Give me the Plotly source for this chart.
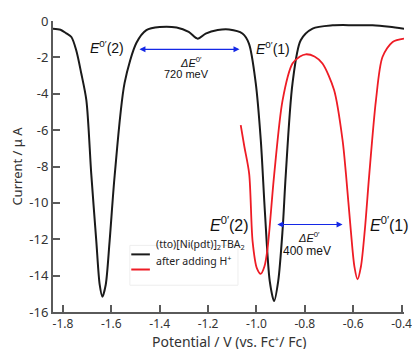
import plotly.graph_objects as go

# Black curve: (tto)[Ni(pdt)]2TBA2
black_x = [-1.841, -1.81, -1.786, -1.765, -1.745, -1.724, -1.703, -1.683, -1.662, -1.648, -1.637,
           -1.623, -1.607, -1.586, -1.545, -1.496, -1.455, -1.40, -1.33, -1.28, -1.243, -1.21,
           -1.16, -1.113, -1.058, -1.031, -1.003, -0.982, -0.965, -0.945, -0.927, -0.91,
           -0.892, -0.879, -0.851, -0.817, -0.768, -0.685, -0.60, -0.52, -0.45, -0.39]
black_y = [-0.42, -0.48, -0.68, -0.88, -1.61, -2.89, -4.36, -8.38, -12.1, -14.5, -15.16,
           -14.5, -12.1, -8.48, -3.4, -1.2, -0.5, -0.33, -0.36, -0.6, -0.97, -0.69,
           -0.5, -0.47, -0.69, -1.24, -3.4, -6.55, -10.5, -14.3, -15.4, -14.3,
           -11.5, -8.5, -3.44, -1.06, -0.42, -0.24, -0.23, -0.24, -0.32, -0.42]

# Red curve: after adding H+
red_x = [-1.065, -1.05, -1.03, -1.016, -0.998, -0.982, -0.967, -0.954, -0.927, -0.892,
         -0.851, -0.82, -0.796, -0.76, -0.727, -0.679, -0.644, -0.63, -0.61, -0.595,
         -0.582, -0.568, -0.552, -0.534, -0.506, -0.479, -0.437, -0.39]
red_y = [-5.73, -6.9, -8.4, -12.1, -13.6, -13.9, -13.5, -12.5, -8.5, -4.36,
         -2.34, -1.95, -1.83, -1.95, -2.34, -3.8, -6.55, -8.4, -11.5, -13.5,
         -14.2, -13.5, -11.5, -8.5, -4.36, -1.98, -1.15, -0.97]

x_ticks = [-1.8, -1.6, -1.4, -1.2, -1.0, -0.8, -0.6, -0.4]
x_tick_labels = ["-1.8", "-1.6", "-1.4", "-1.2", "-1.0", "-0.8", "-0.6", "-0.4"]
y_ticks = [0, -2, -4, -6, -8, -10, -12, -14, -16]
y_tick_labels = ["0", "-2", "-4", "-6", "-8", "-10", "-12", "-14", "-16"]

series_names = ["(tto)[Ni(pdt)]<sub>2</sub>TBA<sub>2</sub>", "after adding H<sup>+</sup>"]
x_title = "Potential / V (vs. Fc⁺/ Fc)"
y_title = "Current / μ A"

BLUE = "#1428e6"
AX = "#5a5a5a"
TXT = "#333333"
ANN_FONT = "Liberation Sans, Arial, sans-serif"
AX_FONT = "Noto Sans, sans-serif"

fig = go.Figure()
fig.add_trace(go.Scatter(x=black_x, y=black_y, mode="lines", name=series_names[0],
                         line=dict(color="#1a1a1a", width=2, shape="spline", smoothing=0.8),
                         showlegend=False))
fig.add_trace(go.Scatter(x=red_x, y=red_y, mode="lines", name=series_names[1],
                         line=dict(color="#ee1c25", width=1.8, shape="spline", smoothing=0.8),
                         showlegend=False))

def E_label(text_num, x, y, size):
    return dict(x=x, y=y, xref="x", yref="y", showarrow=False,
                text="<i>E</i><sup>0′</sup>(" + text_num + ")",
                font=dict(family=ANN_FONT, size=size, color="#111111"))

annotations = [
    E_label("2", -1.617, -1.45, 14),
    E_label("1", -0.93, -1.5, 14),
    E_label("2", -1.11, -11.15, 16),
    E_label("1", -0.449, -11.15, 16),
    dict(x=-1.269, y=-2.25, xref="x", yref="y", showarrow=False,
         text="<i>ΔE</i><sup>0′</sup>", font=dict(family=ANN_FONT, size=11, color="#111111")),
    dict(x=-1.29, y=-2.92, xref="x", yref="y", showarrow=False,
         text="720 meV", font=dict(family=ANN_FONT, size=11, color="#111111")),
    dict(x=-0.782, y=-11.87, xref="x", yref="y", showarrow=False,
         text="<i>ΔE</i><sup>0′</sup>", font=dict(family=ANN_FONT, size=11, color="#111111")),
    dict(x=-0.789, y=-12.65, xref="x", yref="y", showarrow=False,
         text="400 meV", font=dict(family=ANN_FONT, size=12, color="#111111")),
    # double-headed arrows
    dict(x=-1.07, y=-1.555, ax=-1.49, ay=-1.555, xref="x", yref="y", axref="x", ayref="y",
         showarrow=True, arrowhead=2, startarrowhead=2, arrowside="end+start",
         arrowsize=1, startarrowsize=1, arrowwidth=1.2, arrowcolor=BLUE, text=""),
    dict(x=-0.644, y=-11.19, ax=-0.92, ay=-11.19, xref="x", yref="y", axref="x", ayref="y",
         showarrow=True, arrowhead=2, startarrowhead=2, arrowside="end+start",
         arrowsize=1, startarrowsize=1, arrowwidth=1.2, arrowcolor=BLUE, text=""),
    # x-axis title
    dict(x=0.5, y=-0.1, xref="paper", yref="paper", xanchor="center", yanchor="middle",
         showarrow=False, borderpad=0, text=x_title,
         font=dict(family=AX_FONT, size=14, color=TXT)),
]

# manual legend
leg_font = dict(family=AX_FONT, size=10.5, color="#222222")
annotations += [
    dict(x=0.288, y=0.198, xref="paper", yref="paper", xanchor="left", showarrow=False,
         text=series_names[0], font=leg_font),
    dict(x=0.288, y=0.146, xref="paper", yref="paper", xanchor="left", showarrow=False,
         text=series_names[1], font=leg_font),
]
shapes = [
    dict(type="rect", xref="paper", yref="paper", x0=0.219, x1=0.527, y0=0.092, y1=0.229,
         line=dict(color="#eeeeee", width=1), fillcolor="rgba(255,255,255,0.9)", layer="below"),
    dict(type="line", xref="paper", yref="paper", x0=0.223, x1=0.276, y0=0.198, y1=0.198,
         line=dict(color="#1a1a1a", width=2)),
    dict(type="line", xref="paper", yref="paper", x0=0.223, x1=0.276, y0=0.146, y1=0.146,
         line=dict(color="#ee1c25", width=2)),
]

fig.update_layout(
    width=412, height=349,
    margin=dict(l=53, r=8, t=21, b=37),
    paper_bgcolor="white", plot_bgcolor="white",
    annotations=annotations, shapes=shapes,
    showlegend=False,
    xaxis=dict(range=[-1.841, -0.39], tickvals=x_ticks, ticktext=x_tick_labels,
               ticks="inside", ticklen=7, tickwidth=1.5, tickcolor=AX,
               showline=True, linecolor=AX, linewidth=2, showgrid=False, zeroline=False,
               automargin=False, ticklabeloverflow="allow",
               tickfont=dict(family=AX_FONT, size=12, color=TXT)),
    yaxis=dict(range=[-16, 0], tickvals=y_ticks, ticktext=y_tick_labels,
               ticks="inside", ticklen=7, tickwidth=1.5, tickcolor=AX,
               showline=True, linecolor=AX, linewidth=2, showgrid=False, zeroline=False,
               automargin=False, ticklabeloverflow="allow",
               tickfont=dict(family=AX_FONT, size=13, color=TXT),
               title=dict(text=y_title, standoff=4,
                          font=dict(family=AX_FONT, size=13, color=TXT))),
)

fig.write_html("out.html", config={"displayModeBar": False},
               post_script="document.body.style.margin='0';document.body.style.overflow='hidden';")
